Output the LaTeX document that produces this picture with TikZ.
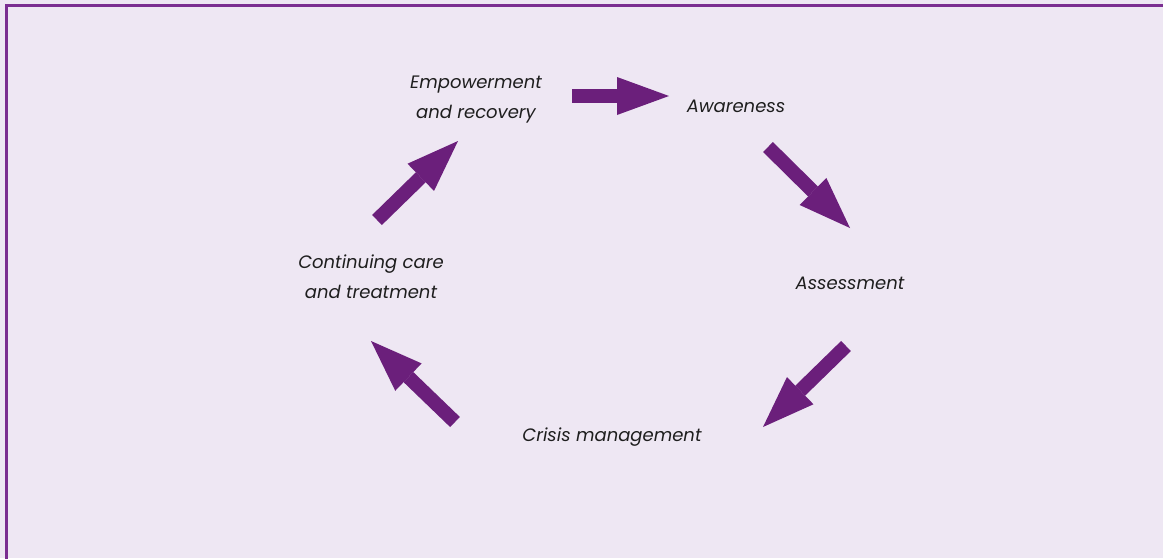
\documentclass[tikz,border=0pt]{standalone}
\usepackage{fontspec}
\setmainfont{Poppins}
\usetikzlibrary{arrows.meta}
\definecolor{bgc}{RGB}{238,231,243}
\definecolor{arrc}{RGB}{107,31,123}
\definecolor{framec}{RGB}{123,46,145}
\definecolor{txtc}{RGB}{30,30,30}
\tikzset{
  lbl/.style={font=\fontsize{18}{30}\selectfont\itshape, text=txtc, align=center, inner sep=0pt},
  bigarrow/.style={draw=arrc, line width=14pt, -{Triangle[length=52pt,width=38pt,line width=0pt]}},
}
\begin{document}
\begin{tikzpicture}[x=1pt,y=-1pt]
\useasboundingbox (0,0) rectangle (1163,558);
\fill[bgc] (0,0) rectangle (1163,558);
\draw[framec, line width=2.5pt] (6.5,560) -- (6.5,5.5) -- (1165,5.5);
\node[lbl] (emp) at (476,100) {Empowerment\\and recovery};
\node[lbl] (awa) at (736,106) {Awareness};
\node[lbl] (ass) at (850,283) {Assessment};
\node[lbl] (cri) at (612,437) {Crisis management};
\node[lbl] (con) at (371,277) {Continuing care\\and treatment};
\coordinate (a1s) at (572,96);  \coordinate (a1e) at (669,96);
\coordinate (a2s) at (768,147); \coordinate (a2e) at (850,228);
\coordinate (a3s) at (846,346); \coordinate (a3e) at (763,427);
\coordinate (a4s) at (455,422); \coordinate (a4e) at (371,341);
\coordinate (a5s) at (377,220); \coordinate (a5e) at (458,141);
\draw[bigarrow] (a1s) -- (a1e);
\draw[bigarrow] (a2s) -- (a2e);
\draw[bigarrow] (a3s) -- (a3e);
\draw[bigarrow] (a4s) -- (a4e);
\draw[bigarrow] (a5s) -- (a5e);
\end{tikzpicture}
\end{document}
